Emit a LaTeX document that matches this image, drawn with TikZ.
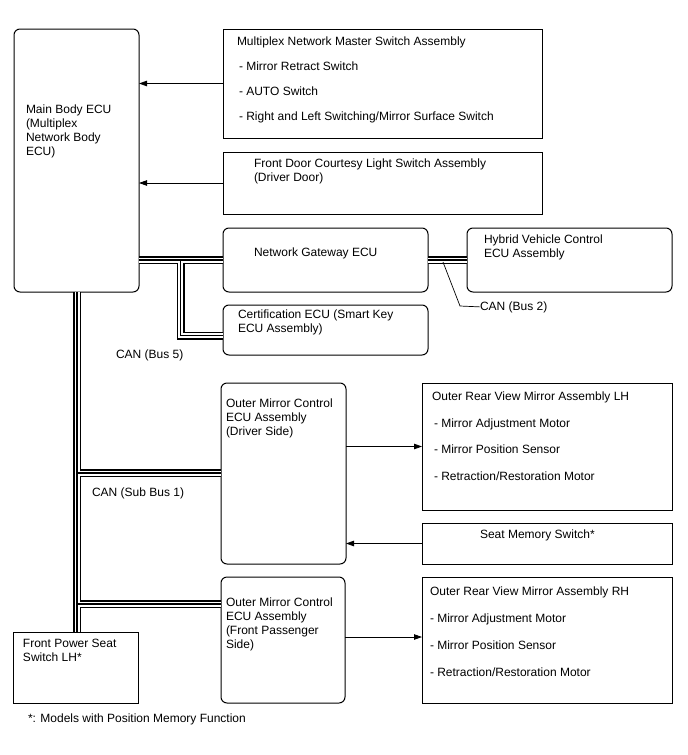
\documentclass[tikz,border=0pt]{standalone}
\usepackage{fontspec}
\setmainfont{Liberation Sans}
\usetikzlibrary{arrows.meta}
\tikzset{
  box/.style={draw, line width=1pt, inner sep=0pt, outer sep=0pt},
  rbox/.style={box, rounded corners=6pt},
  txt/.style={anchor=base west, inner sep=0pt, outer sep=0pt, font=\fontsize{12}{14}\selectfont},
  arr/.style={line width=0.8pt, -{Triangle[length=8pt,width=5.5pt]}},
  busouter/.style={line width=8pt, black},
  businner/.style={line width=5pt, white},
  buscenter/.style={line width=1.3pt, black},
  leader/.style={line width=0.7pt}
}
\newcommand\boxnode[6]{\node[#6, minimum width={#4-#2}, minimum height={#5-#3}] (#1) at ({(#2+#4)/2},{(#3+#5)/2}) {};}
\begin{document}
\begin{tikzpicture}[x=1pt,y=-1pt]
\useasboundingbox (0,0) rectangle (688,755);
\fill[white] (0,0) rectangle (688,755);

% boxes
\boxnode{mainecu}{14}{29}{139}{292}{rbox}
\boxnode{ms}{223}{29}{542}{138}{box}
\boxnode{fd}{223}{152}{542}{214}{box}
\boxnode{gw}{223}{228}{428}{292}{rbox}
\boxnode{hv}{467}{228}{672}{292}{rbox}
\boxnode{cert}{223}{305}{428}{355}{rbox}
\boxnode{omd}{221}{383}{346}{564}{rbox}
\boxnode{lh}{422}{383}{672}{510}{box}
\boxnode{sm}{422}{523}{672}{564}{box}
\boxnode{omp}{221}{577}{345}{703}{rbox}
\boxnode{rh}{422}{577}{672}{703}{box}
\boxnode{fps}{13}{632}{138}{703}{box}

% texts
\node[txt] (mb1) at (26,113) {Main Body ECU};
\node[txt] (mb2) at (26,127) {(Multiplex};
\node[txt] (mb3) at (26,141) {Network Body};
\node[txt] (mb4) at (26,155) {ECU)};

\node[txt] (ms1) at (237,45) {Multiplex Network Master Switch Assembly};
\node[txt] (ms2) at (239,70) {- Mirror Retract Switch};
\node[txt] (ms3) at (239,95) {- AUTO Switch};
\node[txt] (ms4) at (239,120) {- Right and Left Switching/Mirror Surface Switch};

\node[txt] (fd1) at (254,167) {Front Door Courtesy Light Switch Assembly};
\node[txt] (fd2) at (254,181) {(Driver Door)};

\node[txt] (gw1) at (254,256) {Network Gateway ECU};
\node[txt] (hv1) at (484,243) {Hybrid Vehicle Control};
\node[txt] (hv2) at (484,257) {ECU Assembly};

\node[txt] (ce1) at (238,318) {Certification ECU (Smart Key};
\node[txt] (ce2) at (238,332) {ECU Assembly)};

\node[txt] (can5) at (116,358) {CAN (Bus 5)};
\node[txt] (can2) at (480,310) {CAN (Bus 2)};
\node[txt] (cans1) at (92,496) {CAN (Sub Bus 1)};

\node[txt] (od1) at (226,407) {Outer Mirror Control};
\node[txt] (od2) at (226,421) {ECU Assembly};
\node[txt] (od3) at (226,435) {(Driver Side)};

\node[txt] (lh1) at (432,400) {Outer Rear View Mirror Assembly LH};
\node[txt] (lh2) at (434,427) {- Mirror Adjustment Motor};
\node[txt] (lh3) at (434,453) {- Mirror Position Sensor};
\node[txt] (lh4) at (434,480) {- Retraction/Restoration Motor};

\node[txt] (sm1) at (480,538) {Seat Memory Switch*};

\node[txt] (op1) at (226,606) {Outer Mirror Control};
\node[txt] (op2) at (226,620) {ECU Assembly};
\node[txt] (op3) at (226,634) {(Front Passenger};
\node[txt] (op4) at (226,648) {Side)};

\node[txt] (rh1) at (430,595) {Outer Rear View Mirror Assembly RH};
\node[txt] (rh2) at (430,622) {- Mirror Adjustment Motor};
\node[txt] (rh3) at (430,649) {- Mirror Position Sensor};
\node[txt] (rh4) at (430,676) {- Retraction/Restoration Motor};

\node[txt] (fp1) at (23,647) {Front Power Seat};
\node[txt] (fp2) at (23,661) {Switch LH*};

\node[txt] (foot) at (28,722) {*: Models with Position Memory Function};

% arrows
\draw[arr] (ms.west) -- (ms.west -| mainecu.east);
\draw[arr] (fd.west) -- (fd.west -| mainecu.east);
\draw[arr] (omd.east |- lh.west) -- (lh.west);
\draw[arr] (sm.west) -- (sm.west -| omd.east);
\draw[arr] (omp.east |- 0,637) -- (rh.west |- 0,637);

% bus junction coordinates
\coordinate (jg) at (180.5,260);
\coordinate (jc) at (180.5,335.5);
\coordinate (jm) at (77,292);
\coordinate (jd) at (77,473);
\coordinate (jp) at (77,604);
\coordinate (lb) at (443,262);
\coordinate (lk) at (460,306);

\newcommand\buspaths[1]{%
  \draw[#1] (mainecu.east |- jg) -- (gw.west |- jg);
  \draw[#1] (jg) -- (jc) -- (jc -| cert.west);
  \draw[#1] (gw.east |- jg) -- (hv.west |- jg);
  \draw[#1] (jm) -- (jm |- fps.north);
  \draw[#1] (jd) -- (jd -| omd.west);
  \draw[#1] (jp) -- (jp -| omp.west);
}
\buspaths{busouter}
\buspaths{businner}
\buspaths{buscenter}

% leader for CAN (Bus 2)
\draw[leader] (lb) -- (lk) -- (can2.west);
\end{tikzpicture}
\end{document}
